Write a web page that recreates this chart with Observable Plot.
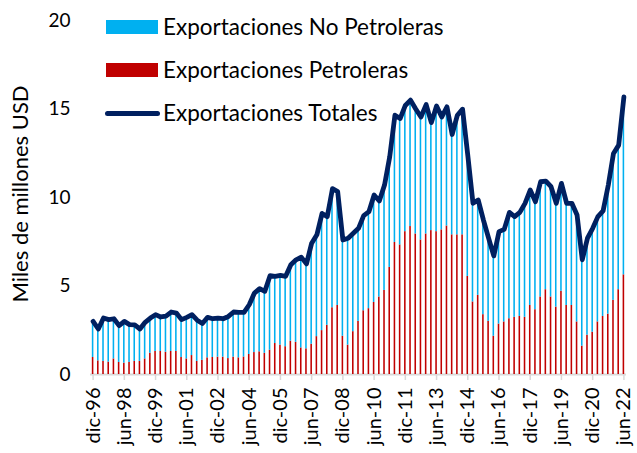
<!DOCTYPE html>
<html>
<head>
<meta charset="utf-8">
<script src="https://cdn.jsdelivr.net/npm/d3@7"></script>
<script src="https://cdn.jsdelivr.net/npm/@observablehq/plot@0.6"></script>
<style>
  html, body { margin: 0; padding: 0; background: #fff; }
  #wrap { position: relative; width: 637px; height: 453px; font-family: Lato, "Open Sans", sans-serif; color: #000; }
  #chart { position: absolute; left: 0; top: 0; }
  .leg { position: absolute; left: 0; top: 0; font-size: 22.5px; line-height: 1; white-space: nowrap; }
  .sw { position: absolute; }
  .lt { position: absolute; transform: translateY(-50%); }
  #ylab { position: absolute; left: 19px; top: 194px; transform: translate(-50%, -50%) rotate(-90deg); font-size: 22px; white-space: nowrap; }
</style>
</head>
<body>
<div id="wrap">
  <div id="chart"></div>
  <div id="ylab">Miles de millones USD</div>
  <div class="leg">
    <div class="sw" style="left:106px;top:20px;width:52px;height:14px;background:#00B0F0"></div>
    <div class="lt" style="left:163px;top:27px">Exportaciones No Petroleras</div>
    <div class="sw" style="left:106px;top:63px;width:52px;height:14px;background:#C00000"></div>
    <div class="lt" style="left:163px;top:70px">Exportaciones Petroleras</div>
    <div class="sw" style="left:105px;top:111px;width:55px;height:5px;background:#002060;border-radius:3px"></div>
    <div class="lt" style="left:163px;top:113px">Exportaciones Totales</div>
  </div>
</div>
<script>
const quarters = [
  "dic-96",
  "mar-97","jun-97","sep-97","dic-97",
  "mar-98","jun-98","sep-98","dic-98",
  "mar-99","jun-99","sep-99","dic-99",
  "mar-00","jun-00","sep-00","dic-00",
  "mar-01","jun-01","sep-01","dic-01",
  "mar-02","jun-02","sep-02","dic-02",
  "mar-03","jun-03","sep-03","dic-03",
  "mar-04","jun-04","sep-04","dic-04",
  "mar-05","jun-05","sep-05","dic-05",
  "mar-06","jun-06","sep-06","dic-06",
  "mar-07","jun-07","sep-07","dic-07",
  "mar-08","jun-08","sep-08","dic-08",
  "mar-09","jun-09","sep-09","dic-09",
  "mar-10","jun-10","sep-10","dic-10",
  "mar-11","jun-11","sep-11","dic-11",
  "mar-12","jun-12","sep-12","dic-12",
  "mar-13","jun-13","sep-13","dic-13",
  "mar-14","jun-14","sep-14","dic-14",
  "mar-15","jun-15","sep-15","dic-15",
  "mar-16","jun-16","sep-16","dic-16",
  "mar-17","jun-17","sep-17","dic-17",
  "mar-18","jun-18","sep-18","dic-18",
  "mar-19","jun-19","sep-19","dic-19",
  "mar-20","jun-20","sep-20","dic-20",
  "mar-21","jun-21","sep-21","dic-21",
  "mar-22","jun-22"
];

const tickLabels = ["dic-96","jun-98","dic-99","jun-01","dic-02","jun-04","dic-05","jun-07","dic-08",
  "jun-10","dic-11","jun-13","dic-14","jun-16","dic-17","jun-19","dic-20","jun-22"];

const petroleras = [
  0.96,0.77,0.74,0.70,0.88,0.68,0.64,0.68,0.74,0.74,
  0.88,1.20,1.30,1.30,1.26,1.30,1.30,0.96,0.88,1.07,
  0.74,0.80,0.94,0.96,0.98,0.98,0.90,0.98,0.94,0.99,
  1.13,1.24,1.28,1.20,1.37,1.75,1.66,1.57,1.88,1.82,
  1.50,1.45,1.71,2.14,2.48,2.78,3.77,3.90,2.16,1.66,
  2.42,3.00,3.60,3.72,4.07,4.38,4.75,6.05,7.46,7.32,
  8.07,8.36,7.94,7.60,7.94,8.13,8.07,8.17,8.39,7.89,
  7.89,7.89,5.54,4.10,4.47,3.38,3.00,2.16,2.85,2.97,
  3.15,3.23,3.28,3.23,3.90,3.66,4.38,4.79,4.38,3.81,
  4.70,3.90,3.90,2.97,1.60,2.22,2.39,2.97,3.28,3.41,
  4.19,4.79,5.63
];

const noPetroleras = [
  2.04,1.80,2.45,2.40,2.27,2.08,2.36,2.14,2.06,1.83,
  2.07,1.99,2.08,1.95,2.04,2.23,2.17,2.14,2.35,2.31,
  2.33,2.08,2.29,2.19,2.21,2.17,2.38,2.55,2.57,2.52,
  2.81,3.36,3.57,3.50,4.21,3.80,3.94,3.98,4.32,4.66,
  5.13,4.80,5.71,5.75,6.62,6.14,6.73,6.43,5.44,6.04,
  5.56,5.26,5.38,5.48,6.07,5.42,5.95,6.25,7.19,7.14,
  7.13,7.14,7.06,6.95,7.31,6.10,7.10,6.38,6.73,5.67,
  6.76,7.10,6.85,5.57,5.39,5.35,4.70,4.54,5.22,5.23,
  6.01,5.69,5.88,6.44,6.52,6.10,6.51,6.14,6.23,5.86,
  6.10,5.77,5.77,6.04,4.88,5.48,5.87,5.95,5.96,7.29,
  8.30,8.17,10.05
];

const totales = [
  3.00,2.57,3.19,3.10,3.15,2.76,3.00,2.82,2.80,2.57,
  2.95,3.19,3.38,3.25,3.30,3.53,3.47,3.10,3.23,3.38,
  3.07,2.88,3.23,3.15,3.19,3.15,3.28,3.53,3.51,3.51,
  3.94,4.60,4.85,4.70,5.58,5.55,5.60,5.55,6.20,6.48,
  6.63,6.25,7.42,7.89,9.10,8.92,10.50,10.33,7.60,7.70,
  7.98,8.26,8.98,9.20,10.14,9.80,10.70,12.30,14.65,14.46,
  15.20,15.50,15.00,14.55,15.25,14.23,15.17,14.55,15.12,13.56,
  14.65,14.99,12.39,9.67,9.86,8.73,7.70,6.70,8.07,8.20,
  9.16,8.92,9.16,9.67,10.42,9.76,10.89,10.93,10.61,9.67,
  10.80,9.67,9.67,9.01,6.48,7.70,8.26,8.92,9.24,10.70,
  12.49,12.96,15.68
];

const yTicks = [0, 5, 10, 15, 20];

const seriesNames = ["Exportaciones Petroleras", "Exportaciones No Petroleras"];
const seriesColors = ["#C00000", "#00B0F0"];

const stacked = quarters.flatMap((q, i) => [
  {q, serie: seriesNames[0], v: petroleras[i]},
  {q, serie: seriesNames[1], v: noPetroleras[i]}
]);
const lineData = quarters.map((q, i) => ({q, total: totales[i]}));

const chart = Plot.plot({
  width: 637,
  height: 453,
  marginLeft: 90,
  marginRight: 11,
  marginTop: 20,
  marginBottom: 79,
  style: {fontFamily: "Lato, 'Open Sans', sans-serif", background: "#fff", color: "#000", overflow: "visible"},
  x: {type: "band", domain: quarters, paddingInner: 0.7, paddingOuter: 0.35, round: false, label: null},
  y: {domain: [0, 20], label: null},
  color: {domain: seriesNames, range: seriesColors},
  marks: [
    Plot.ruleY([0], {stroke: "#d9d9d9", strokeWidth: 2}),
    Plot.barY(stacked, {x: "q", y: "v", fill: "serie"}),
    Plot.lineY(lineData, {x: "q", y: "total", stroke: "#002060", strokeWidth: 4.8, strokeLinejoin: "round", strokeLinecap: "round"}),
    Plot.axisY({ticks: yTicks, tickSize: 0, tickPadding: 20, fontSize: 19, label: null, fill: "#000"}),
    Plot.axisX({ticks: tickLabels, tickRotate: -90, tickSize: 6, tickPadding: 7, fontSize: 20, stroke: "#d9d9d9", strokeWidth: 1.5, fill: "#000", label: null})
  ]
});
document.getElementById("chart").appendChild(chart);
</script>
</body>
</html>
